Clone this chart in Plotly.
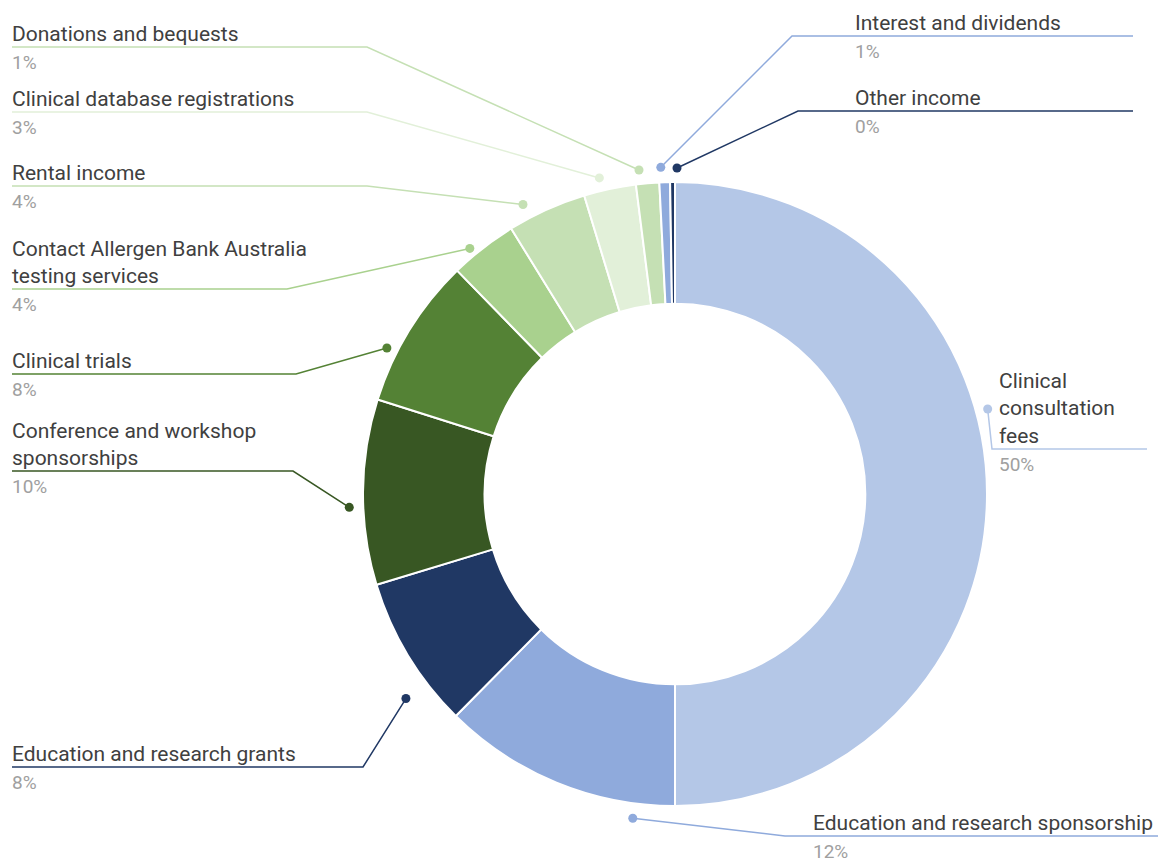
import math
import plotly.graph_objects as go

W, H = 1158, 867

# ---- data ----
labels = [
    "Clinical consultation fees",
    "Education and research sponsorship",
    "Education and research grants",
    "Conference and workshop sponsorships",
    "Clinical trials",
    "Contact Allergen Bank Australia testing services",
    "Rental income",
    "Clinical database registrations",
    "Donations and bequests",
    "Interest and dividends",
    "Other income",
]
display_labels = [
    "Clinical<br>consultation<br>fees",
    "Education and research sponsorship",
    "Education and research grants",
    "Conference and workshop<br>sponsorships",
    "Clinical trials",
    "Contact Allergen Bank Australia<br>testing services",
    "Rental income",
    "Clinical database registrations",
    "Donations and bequests",
    "Interest and dividends",
    "Other income",
]
values = [50.0, 12.4, 7.9, 9.6, 7.8, 3.5, 4.1, 2.7, 1.2, 0.55, 0.25]

# ---- style ----
colors = ["#b4c7e7", "#8faadc", "#203864", "#385723", "#548235",
          "#a9d18e", "#c5e0b4", "#e2f0d9", "#c5e0b4", "#8faadc", "#203864"]
CX, CY, R = 675, 494, 312
HOLE = 0.61
# label layout: (line_y, elbow_x, end_x, text_x, dot_r, angle_nudge)
label_layout = [
    (449, 992, 1147, 999, 324, -15.2),
    (836, 785, 1158, 813, 327, -14.9),
    (767, 363, 12, 12, 338, -6.1),
    (471, 293, 12, 12, 326, -2.7),
    (374, 296, 12, 12, 323, -4.8),
    (289, 287, 12, 12, 320, -1.9),
    (186, 367, 12, 12, 327, -3.4),
    (112, 367, 12, 12, 325, -1.4),
    (47, 367, 12, 12, 326, -1.3),
    (36, 792, 1133, 855, 327, -0.6),
    (111, 798, 1133, 855, 326, 0.8),
]
FONT = "Roboto"
NAME_COLOR = "#404040"
PCT_COLOR = "#a0a0a0"
TEXT_PAD = 2

fig = go.Figure()

fig.add_trace(go.Pie(
    labels=labels, values=values, sort=False, direction="clockwise", rotation=0,
    hole=HOLE, textinfo="none",
    marker=dict(colors=colors, line=dict(color="white", width=2)),
    domain=dict(x=[(CX - R) / W, (CX + R) / W], y=[(H - CY - R) / H, (H - CY + R) / H]),
    showlegend=False,
))

total = sum(values)
cum = 0.0
annotations = []
for i, v in enumerate(values):
    mid = (cum + v / 2) / total * 360.0
    cum += v
    line_y, elbow_x, end_x, text_x, dot_r, nudge = label_layout[i]
    ang = math.radians(mid + nudge)
    dx = CX + dot_r * math.sin(ang)
    dy = CY - dot_r * math.cos(ang)
    fig.add_trace(go.Scatter(
        x=[dx, elbow_x, end_x], y=[dy, line_y, line_y], mode="lines",
        line=dict(color=colors[i], width=1.5), hoverinfo="skip", showlegend=False,
        cliponaxis=False,
    ))
    fig.add_trace(go.Scatter(
        x=[dx], y=[dy], mode="markers", marker=dict(color=colors[i], size=9),
        hoverinfo="skip", showlegend=False, cliponaxis=False,
    ))
    pct = int(v / total * 100 + 0.5)
    annotations.append(dict(
        x=text_x - TEXT_PAD, y=line_y + 1, xref="x", yref="y", xanchor="left", yanchor="bottom",
        text=display_labels[i], showarrow=False, align="left",
        font=dict(family=FONT, size=21, color=NAME_COLOR),
    ))
    annotations.append(dict(
        x=text_x - TEXT_PAD, y=line_y + 2, xref="x", yref="y", xanchor="left", yanchor="top",
        text=f"{pct}%", showarrow=False, align="left",
        font=dict(family=FONT, size=19, color=PCT_COLOR),
    ))

fig.update_layout(
    width=W, height=H, margin=dict(l=0, r=0, t=0, b=0),
    paper_bgcolor="white", plot_bgcolor="rgba(0,0,0,0)",
    xaxis=dict(range=[0, W], visible=False, fixedrange=True),
    yaxis=dict(range=[H, 0], visible=False, fixedrange=True),
    annotations=annotations,
    font=dict(family=FONT),
)

fig.write_html("out.html", config={"displayModeBar": False},
               post_script="document.body.style.margin='0';document.body.style.padding='0';")
